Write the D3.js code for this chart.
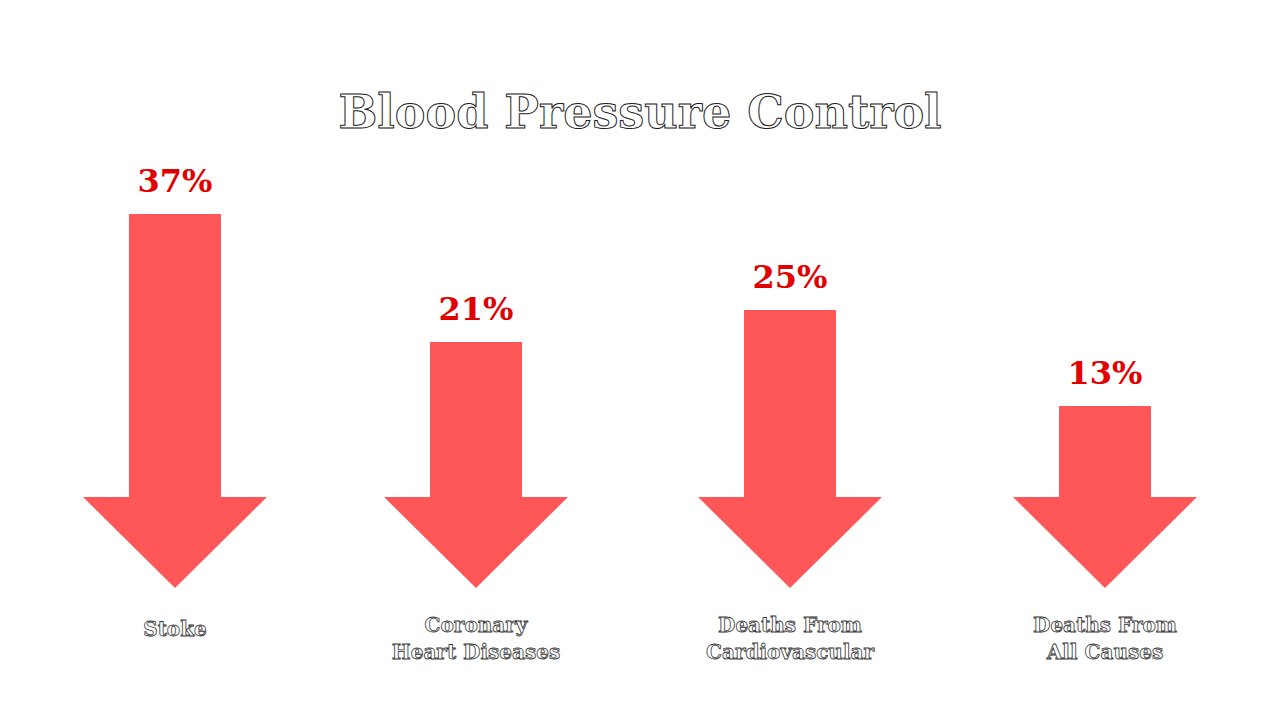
<!DOCTYPE html>
<html><head><meta charset="utf-8">
<script src="https://cdn.jsdelivr.net/npm/d3@7"></script>
<style>body{margin:0;background:#fff}</style></head>
<body><div id="chart"></div>
<script>
// data
const categories = [["Stoke"], ["Coronary", "Heart Diseases"], ["Deaths From", "Cardiovascular"], ["Deaths From", "All Causes"]];
const values = [37, 21, 25, 13];
const titleText = "Blood Pressure Control";

const W = 1280, H = 720;
const svg = d3.select("#chart").append("svg").attr("width", W).attr("height", H);

const y = d3.scaleLinear().domain([13, 37]).range([406, 214]);
const headY = 497, tipY = 588, shaftW = 92, headW = 184;

function arrowPath(cx, top) {
    return `M${cx - shaftW/2},${top} H${cx + shaftW/2} V${headY} H${cx + headW/2} L${cx},${tipY} L${cx - headW/2},${headY} H${cx - shaftW/2}Z`;
}
const cxs = [175, 476, 790, 1105]; // centres in reference are not evenly spaced
const cx = i => cxs[i];

svg.append("text").attr("x", 640).attr("y", 128).attr("text-anchor", "middle")
    .style("font-family", "DejaVu Serif, serif").style("font-size", "46px").style("font-weight", "bold")
    .attr("fill", "#fff").attr("stroke", "#222").attr("stroke-width", 1)
    .text(titleText);

const g = svg.selectAll(".arrow").data(values).enter().append("g");
g.append("path").attr("d", (d, i) => arrowPath(cx(i), y(d))).attr("fill", "#ff5757");
g.append("text").attr("x", (d, i) => cx(i)).attr("y", d => y(d) - 22)
    .attr("text-anchor", "middle").style("font-family", "DejaVu Serif, serif")
    .style("font-weight", "bold").style("font-size", "32px").attr("fill", "#e00000")
    .text(d => d + "%");
g.each(function (d, i) {
    const t = d3.select(this).append("text").attr("text-anchor", "middle")
        .style("font-family", "DejaVu Serif, serif").style("font-size", "20px").style("font-weight", "bold")
        .attr("fill", "#fff").attr("stroke", "#333").attr("stroke-width", 0.8);
    const lines = categories[i];
    const y0 = lines.length === 1 ? 636 : 632;
    lines.forEach((s, k) => t.append("tspan").attr("x", cx(i)).attr("y", y0 + k * 27).text(s));
});
</script></body></html>
